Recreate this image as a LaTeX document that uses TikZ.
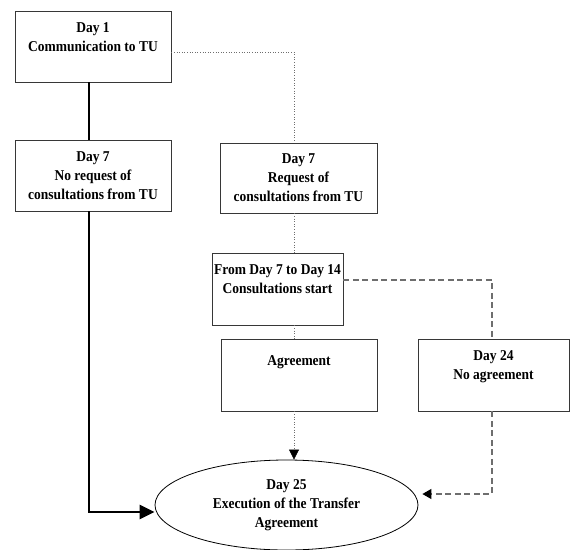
\documentclass[tikz,border=0pt]{standalone}
\usepackage{fontspec}
\setmainfont{Liberation Serif}[FakeStretch=0.9]
\usepackage{tikz}
\usetikzlibrary{shapes.geometric, arrows.meta, calc}
\definecolor{boxgray}{RGB}{55,55,55}
\definecolor{linkgray}{RGB}{110,110,110}

\begin{document}
\begin{tikzpicture}[x=1pt, y=-1pt,
    daybox/.style={draw=boxgray, line width=0.9pt, align=center, inner sep=0pt,
        font=\fontsize{15}{19}\selectfont\bfseries},
    yespath/.style={line width=2.8pt, -{Triangle[length=15pt, width=14pt]}},
    talkpath/.style={draw=linkgray, line width=0.6pt, dotted},
    failpath/.style={draw=linkgray, line width=1.1pt, dash pattern=on 6pt off 3.5pt}]
    \useasboundingbox (0,0) rectangle (570,549);

    % Day 1 and the path without consultations
    \node[daybox, minimum width=156pt, minimum height=71pt] (day1) at (93,46.5)
        {Day 1\\Communication to TU\\\mbox{}};
    \node[daybox, minimum width=156pt, minimum height=71pt] (norequest) at (93,175.5)
        {Day 7\\No request of\\consultations from TU};

    % Path with consultations
    \node[daybox, minimum width=157pt, minimum height=70pt] (request) at (298.5,178)
        {Day 7\\Request of\\consultations from TU};
    \node[daybox, minimum width=131pt, minimum height=72pt] (consult) at (277.5,289)
        {From Day 7 to Day 14\\Consultations start\\\mbox{}};
    \node[daybox, minimum width=156pt, minimum height=72pt] (agree) at (299,375)
        {\mbox{}\\Agreement\\\mbox{}\\\mbox{}};
    \node[daybox, minimum width=151pt, minimum height=72pt] (noagree) at (493.5,375)
        {Day 24\\No agreement\\\mbox{}};

    % Day 25
    \node[daybox, ellipse, draw=black, line width=0.8pt, minimum width=263pt, minimum height=90pt]
        (exec) at (286.5,505) {Day 25\\Execution of the Transfer\\Agreement};

    % Connectors
    \coordinate (leftx) at (89,0);
    \coordinate (midx) at (294,0);
    \coordinate (rightx) at (492,0);

    \draw[line width=2.8pt] (day1.south -| leftx) -- (norequest.north -| leftx);
    \draw[yespath] (norequest.south -| leftx) |- ($(exec.west)+(0,7)$);

    \draw[talkpath] ($(day1.east)+(0,5.5)$) -| (request.north -| midx);
    \draw[talkpath] (request.south -| midx) -- (consult.north -| midx);
    \draw[talkpath] (consult.south -| midx) -- (agree.north -| midx);
    \draw[talkpath, -{Triangle[length=10pt, width=10pt, color=black]}] (agree.south -| midx) -- (exec.north -| midx);

    \draw[failpath] ($(consult.east)+(0,-9)$) -| (noagree.north -| rightx);
    \draw[failpath, -{Triangle[length=9pt, width=10pt, color=black]}] (noagree.south -| rightx) |- ($(exec.east)+(4,-11)$);
\end{tikzpicture}
\end{document}
